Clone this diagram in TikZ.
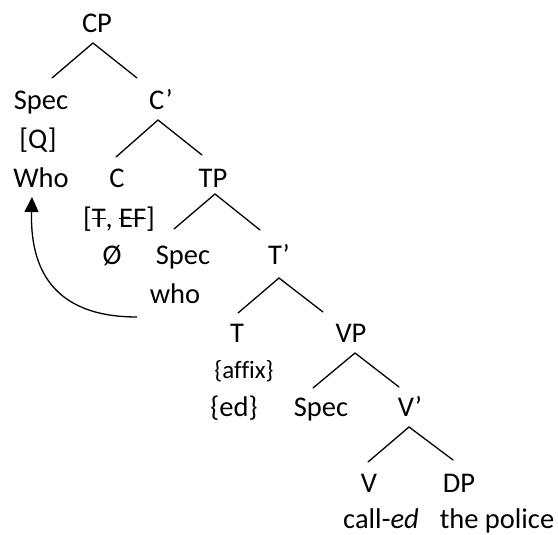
\documentclass[tikz,border=0pt]{standalone}
\usepackage{fontspec}
\setmainfont{Carlito}
\newcommand{\strk}[1]{\setbox0\hbox{#1}\rlap{\raisebox{7.5pt}{\rule{\wd0}{1.2pt}}}\box0}
\usetikzlibrary{arrows.meta}
\tikzset{
  lbl/.style={anchor=base, inner sep=0pt, font=\fontsize{28.5}{34}\selectfont},
  small/.style={anchor=base, inner sep=0pt, font=\fontsize{25}{30}\selectfont\addfontfeatures{Ligatures=NoCommon}},
  branch/.style={line width=1.3pt, line cap=round},
  move/.style={line width=1.3pt, -{Triangle[length=15pt,width=14pt]}}
}
\begin{document}
\begin{tikzpicture}[x=1pt,y=-1pt]
\useasboundingbox (0,0) rectangle (558,535);
% labels
\node[lbl] (CP) at (97,33) {CP};
\node[lbl] (spec1) at (41,110) {Spec};
\node[lbl] (Cbar) at (161,110) {C’};
\node[lbl] (Q) at (38,149) {[Q]};
\node[lbl] (Who) at (41,187) {Who};
\node[lbl] (C) at (117,187) {C};
\node[lbl] (TP) at (213,187) {TP};
\node[lbl] (feat) at (119,227) {[\strk{T}, \strk{EF}]};
\node[lbl] (null) at (112,265) {Ø};
\node[lbl] (spec2) at (183,265) {Spec};
\node[lbl] (Tbar) at (279,265) {T’};
\node[lbl] (who) at (175,303) {who};
\node[lbl] (T) at (237,342) {T};
\node[lbl] (VP) at (351,342) {VP};
\node[small] (affix) at (244,378) {\{affix\}};
\node[lbl] (ed) at (234,416) {\{ed\}};
\node[lbl] (spec3) at (321,416) {Spec};
\node[lbl] (Vbar) at (410,416) {V’};
\node[lbl] (V) at (369,492) {V};
\node[lbl] (DP) at (459,492) {DP};
\node[lbl] (called) at (381,528) {call-\textit{ed}};
\node[lbl] (police) at (497,528) {the police};
% branch points
\coordinate (cpA) at (93,43);   \coordinate (cpL) at (52,78);   \coordinate (cpR) at (137,78);
\coordinate (cbA) at (158,120); \coordinate (cbL) at (116,157); \coordinate (cbR) at (202,155);
\coordinate (tpA) at (215,194); \coordinate (tpL) at (174,229); \coordinate (tpR) at (260,230);
\coordinate (tbA) at (279,278); \coordinate (tbL) at (238,313); \coordinate (tbR) at (323,312);
\coordinate (vpA) at (355,353); \coordinate (vpL) at (313,388); \coordinate (vpR) at (399,387);
\coordinate (vbA) at (409,427); \coordinate (vbL) at (368,462); \coordinate (vbR) at (453,460);
\draw[branch] (cpL) -- (cpA) -- (cpR);
\draw[branch] (cbL) -- (cbA) -- (cbR);
\draw[branch] (tpL) -- (tpA) -- (tpR);
\draw[branch] (tbL) -- (tbA) -- (tbR);
\draw[branch] (vpL) -- (vpA) -- (vpR);
\draw[branch] (vbL) -- (vbA) -- (vbR);
% movement arrow
\coordinate (mvS) at (137,317);
\coordinate (mvE) at (32,197);
\draw[move] (mvS) .. controls (50,317) and (30,265) .. (mvE);
\end{tikzpicture}
\end{document}
